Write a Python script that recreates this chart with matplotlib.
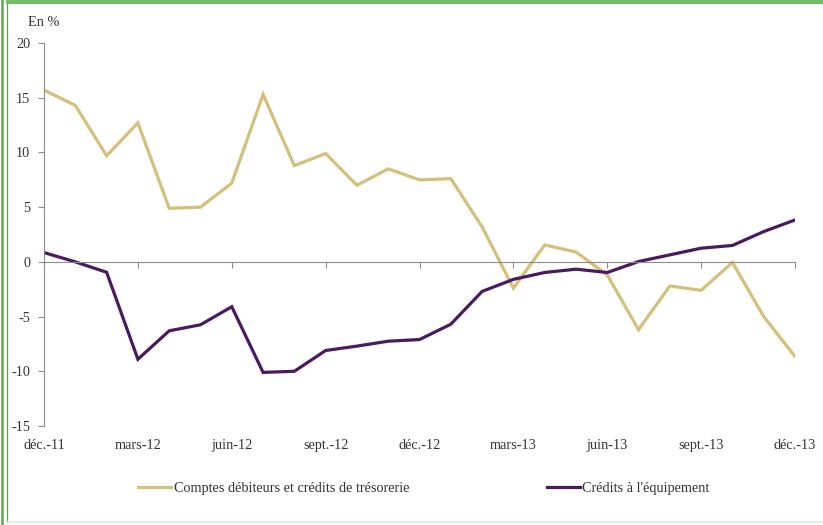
import matplotlib
matplotlib.use("Agg")
from matplotlib import pyplot as plt
from matplotlib.lines import Line2D
from matplotlib.patches import Rectangle

plt.rcParams['font.family'] = ['Liberation Serif', 'DejaVu Serif']

# monthly data, déc.-11 to déc.-13
months = list(range(25))
tick_pos = [0, 3, 6, 9, 12, 15, 18, 21, 24]
tick_labels = ["déc.-11", "mars-12", "juin-12", "sept.-12", "déc.-12",
			   "mars-13", "juin-13", "sept.-13", "déc.-13"]

tresorerie = [15.7, 14.3, 9.7, 12.7, 4.9, 5.0, 7.2, 15.3, 8.8, 9.9,
			  7.0, 8.5, 7.5, 7.6, 3.2, -2.4, 1.55, 0.9, -1.2, -6.2,
			  -2.2, -2.6, -0.05, -5.0, -8.65]
equipement = [0.85, 0.0, -0.95, -8.9, -6.3, -5.75, -4.1, -10.1, -10.0, -8.1,
			  -7.7, -7.25, -7.1, -5.7, -2.7, -1.6, -0.97, -0.67, -0.97, 0.03,
			  0.64, 1.25, 1.5, 2.77, 3.83]

label_tres = "Comptes débiteurs et crédits de trésorerie"
label_equip = "Crédits à l'équipement"

tan = "#D4BF7B"
purple = "#4A1A60"
grey = "#8C8C8C"
fs = 10.3

fig = plt.figure(figsize=(8.23, 5.25), dpi=100)
ax = fig.add_axes([0.0535, 0.1886, 0.9125, 0.7294])

l1, = ax.plot(months, tresorerie, color=tan, lw=2.3, solid_joinstyle='miter')
l2, = ax.plot(months, equipement, color=purple, lw=2.3, solid_joinstyle='miter')

ax.set_xlim(0, 24)
ax.set_ylim(-15, 20)
ax.set_yticks([-15, -10, -5, 0, 5, 10, 15, 20])
ax.set_yticklabels(["-15", "-10", "-5", "0", "5", "10", "15", "20"])

ax.spines['top'].set_visible(False)
ax.spines['right'].set_visible(False)
ax.spines['left'].set_color(grey)
ax.spines['bottom'].set_color(grey)
ax.spines['bottom'].set_position(('data', 0))
ax.set_xticks(tick_pos)
ax.set_xticklabels([])
ax.tick_params(axis='x', direction='out', length=4, color=grey)
ax.tick_params(axis='y', direction='out', length=4, color=grey, labelsize=fs, pad=6)
for t in ax.get_yticklabels():
	t.set_color("#333333")

for p, lab in zip(tick_pos, tick_labels):
	ax.text(p, -0.052, lab, transform=ax.get_xaxis_transform(), ha='center', va='center',
			fontsize=fs, color="#333333")

fig.text(0.034, 0.958, "En %", fontsize=fs, color="#333333", va='center')

fig.legend([l1, l2], [label_tres, label_equip], loc='center', bbox_to_anchor=(0.515, 0.07),
		   ncol=2, frameon=False, fontsize=fs, handlelength=2.3, handletextpad=0.2,
		   columnspacing=9.6)
for t in fig.legends[0].get_texts():
	t.set_color("#333333")

# green frame
fig.add_artist(Rectangle((0.007, 0.992), 0.993, 0.008, transform=fig.transFigure,
						 color="#77BB66", lw=0))
fig.add_artist(Line2D([0.002, 0.002], [0, 1], transform=fig.transFigure, color="#5FA64E", lw=1.8))
fig.add_artist(Line2D([0.0085, 0.0085], [0.005, 0.992], transform=fig.transFigure, color="#5FA64E", lw=0.9))
fig.add_artist(Line2D([0.009, 1], [0.005, 0.005], transform=fig.transFigure, color="#DDEED8", lw=1.2))

fig.savefig("out.png", dpi=100)
